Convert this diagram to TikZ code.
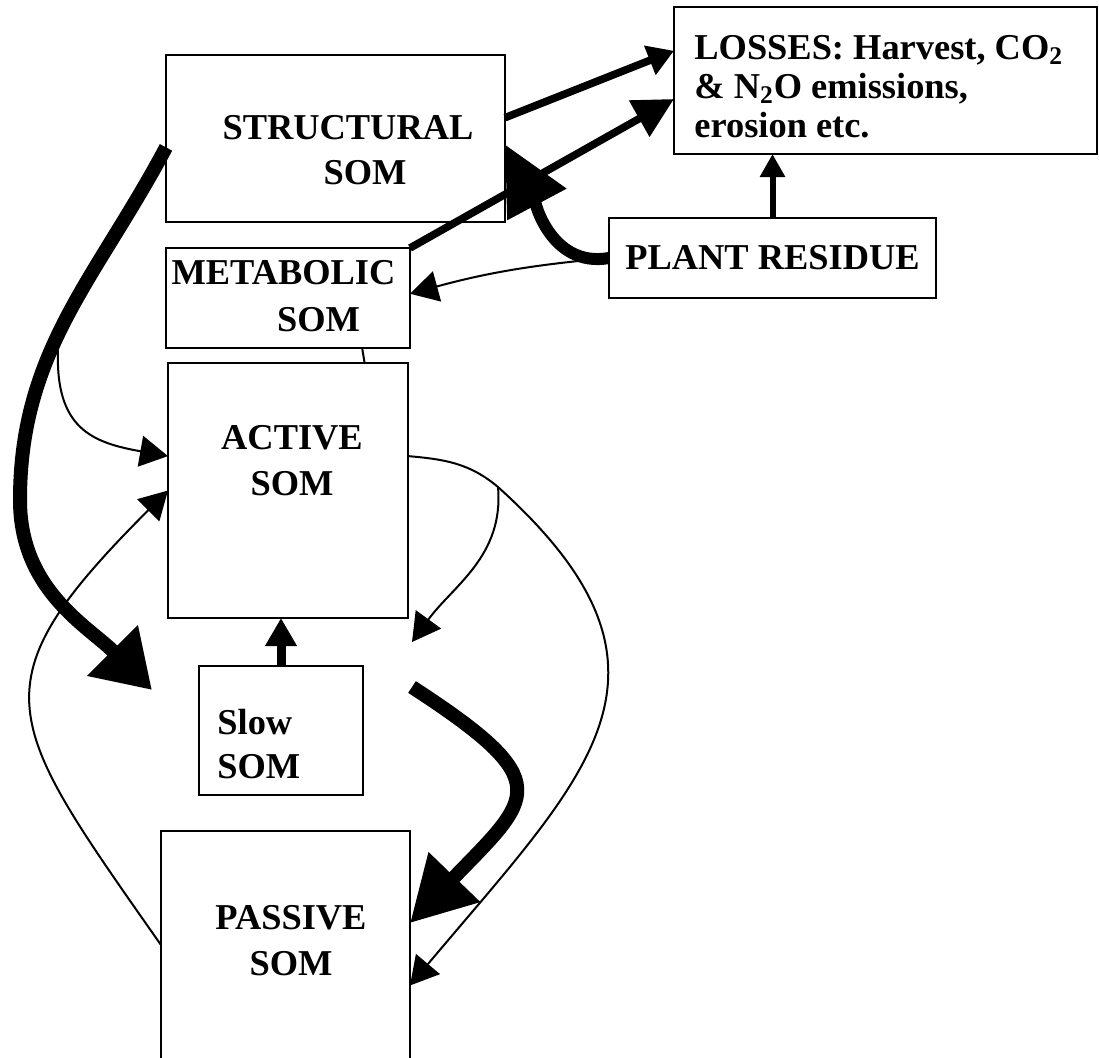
\documentclass[tikz,border=0pt]{standalone}
\usepackage{fontspec}
\setmainfont{Liberation Serif}
\usepackage{tikz}
\usetikzlibrary{arrows.meta, positioning}
\definecolor{inkblack}{HTML}{000000}
\tikzset{
  pool/.style={draw=inkblack, line width=1.2pt, inner sep=0pt, outer sep=0pt, anchor=north west},
  lbl/.style={font=\fontsize{18.2}{#1}\selectfont\bfseries, text=inkblack, inner sep=0pt, align=center},
  lbl/.default=23pt,
  flow/.style={-{Triangle[length=14pt,width=15.5pt]}, line width=1pt, draw=inkblack},
  push/.style n args={3}{-{Triangle[length=#2,width=#3]}, line width=#1, draw=inkblack},
}

\begin{document}
\begin{tikzpicture}[x=0.5pt, y=-0.5pt]
  \fill[white] (0,0) rectangle (1099,1057);
  \useasboundingbox (0,0) rectangle (1099,1057);

  % pools
  \node[pool, minimum width=169.5pt, minimum height=83.5pt] (structural) at (166,55) {};
  \node[pool, minimum width=211.5pt, minimum height=73.5pt] (losses) at (674,7) {};
  \node[pool, minimum width=163.5pt, minimum height=40pt, lbl] (plant) at (609,218) {PLANT RESIDUE};
  \node[pool, minimum width=122pt, minimum height=50pt] (metabolic) at (166,248) {};
  \node[pool, minimum width=120pt, minimum height=127.5pt] (active) at (168,363) {};
  \node[pool, minimum width=82pt, minimum height=64.5pt] (slow) at (199,666) {};
  \node[pool, minimum width=124.5pt, minimum height=114pt] (passive) at (161,831) {};

  % labels
  \node[lbl=22.5pt] (structural-t) at (348,150) {STRUCTURAL\\\hspace*{17pt}SOM};
  \node[lbl=19.5pt, align=left, anchor=west] (losses-t) at (694,87)
    {LOSSES: Harvest, CO\textsubscript{2}\\\& N\textsubscript{2}O emissions,\\erosion etc.};
  \node[lbl=23.5pt] (metabolic-t) at (283.5,296) {METABOLIC\\\hspace*{35pt}SOM};
  \node[lbl] (active-t) at (292,461) {ACTIVE\\SOM};
  \node[lbl=22pt, align=left, anchor=west] (slow-t) at (217,744) {Slow\\SOM};
  \node[lbl] (passive-t) at (291,941) {PASSIVE\\SOM};

  % free ends
  \coordinate (sweep) at (20,500);
  \coordinate (slowin) at (152,690);
  \coordinate (fork) at (58,350);
  \coordinate (split) at (498,487);
  \coordinate (slowtip) at (412,642);
  \coordinate (slowout) at (412,687);

  % thin flows
  \draw[flow] (fork) to[out=-92,in=170,looseness=1.3] (active.164);
  \draw[flow] (passive.west) to[out=125,in=225,looseness=1.55] (active.west);
  \draw[flow] (active.16) to[out=-5,in=140] (split) to[out=-85,in=54] (slowtip);
  \draw[flow] (split) to[out=-42,in=50,looseness=1.4] (passive.-18);
  \draw[line width=1pt] (metabolic.-34) -- (active.59);
  \draw[flow] (plant.west) to[bend right=5] (metabolic.2);

  % heavy flows
  \draw[push={7pt}{28pt}{34pt}] (structural.183) to[out=242,in=90] (sweep) to[out=-90,in=135] (slowin);
  \draw[push={7pt}{32pt}{34pt}] (slowout) to[out=-33,in=46,looseness=1.9] (passive.10);
  \draw[push={4.5pt}{14pt}{15pt}] (slow.north) -- (slow.north |- active.south);
  \draw[push={3.8pt}{13pt}{15pt}] (structural.7) -- (losses.172);
  \draw[push={3.8pt}{20pt}{20pt}] (metabolic.north east) -- (losses.185);
  \draw[push={3pt}{11.5pt}{12pt}] (plant.north) -- (plant.north |- losses.south);
  \draw[push={6pt}{34pt}{32pt}] (plant.west) to[out=190,in=-62] (structural.-2);
\end{tikzpicture}
\end{document}
